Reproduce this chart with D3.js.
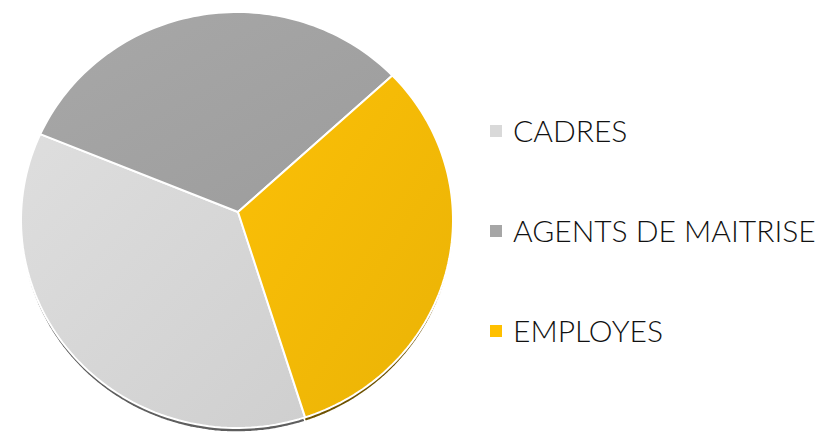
<!DOCTYPE html>
<html>
<head>
<meta charset="utf-8">
<script src="https://cdn.jsdelivr.net/npm/d3@7"></script>
<style>
  body { margin: 0; background: #fff; }
  svg { display: block; }
</style>
</head>
<body>
<div class="svg-container"></div>
<script>
// data (shares)
var categories = ["CADRES", "AGENTS DE MAITRISE", "EMPLOYES"];
var values = [36, 32.5, 31.5];
var sliceColors = ["#d5d5d5", "#a1a1a1", "#f1b806"];
var edgeColors = ["#5e5e5e", "#5e5e5e", "#6e5200"];
var legendColors = ["#d9d9d9", "#a6a6a6", "#ffc000"];

var width = 830, height = 437;

var svg = d3.select(".svg-container").append("svg")
    .attr("width", width)
    .attr("height", height);

// outline of the (slightly tilted) pie and the point where slices meet
var cx = 237, cy = 220, rx = 216, ry = 208;
var apex = [238, 212];
var firstAngle = 161.9 * Math.PI / 180;

var pie = d3.pie().sort(null).value(function(d) { return d; })
    .startAngle(firstAngle).endAngle(firstAngle + 2 * Math.PI);
var arcs = pie(values);

// point on the outline hit by a ray from the apex
function rim(a) {
    var dx = Math.sin(a), dy = -Math.cos(a);
    var ox = (apex[0] - cx) / rx, oy = (apex[1] - cy) / ry;
    var ux = dx / rx, uy = dy / ry;
    var A = ux * ux + uy * uy, B = 2 * (ox * ux + oy * uy), C = ox * ox + oy * oy - 1;
    var t = (-B + Math.sqrt(B * B - 4 * A * C)) / (2 * A);
    return [apex[0] + t * dx, apex[1] + t * dy];
}

function slicePath(d) {
    var pts = [apex];
    var n = 80;
    for (var i = 0; i <= n; i++) {
        pts.push(rim(d.startAngle + (d.endAngle - d.startAngle) * i / n));
    }
    return d3.line()(pts) + "Z";
}

// gradients for a light shading
var defs = svg.append("defs");
sliceColors.forEach(function(c, i) {
    var g = defs.append("linearGradient").attr("id", "grad" + i)
        .attr("x1", "0%").attr("y1", "0%").attr("x2", "100%").attr("y2", "100%");
    g.append("stop").attr("offset", "0%").attr("stop-color", d3.rgb(c).brighter(0.12));
    g.append("stop").attr("offset", "100%").attr("stop-color", d3.rgb(c).darker(0.08));
});

// thick edge below
svg.append("g").selectAll("path")
    .data(arcs)
    .enter().append("path")
    .attr("d", slicePath)
    .attr("transform", "translate(0,4)")
    .attr("fill", function(d, i) { return edgeColors[i]; })
    .attr("stroke", "#fff")
    .attr("stroke-width", 1.5);

// slices
svg.append("g").selectAll("path")
    .data(arcs)
    .enter().append("path")
    .attr("d", slicePath)
    .attr("fill", function(d, i) { return "url(#grad" + i + ")"; })
    .attr("stroke", "#fff")
    .attr("stroke-width", 2)
    .attr("stroke-linejoin", "round");

// legend
var legendY = d3.scalePoint().domain(categories).range([131, 331]);

var legend = svg.append("g").selectAll("g")
    .data(categories)
    .enter().append("g")
    .attr("transform", function(d) { return "translate(490," + legendY(d) + ")"; });

legend.append("rect")
    .attr("x", 0).attr("y", -6)
    .attr("width", 12).attr("height", 12)
    .attr("fill", function(d, i) { return legendColors[i]; });

legend.append("text")
    .attr("x", 23).attr("y", 11)
    .attr("font-family", "Lato, sans-serif")
    .attr("font-weight", 300)
    .attr("font-size", 30)
    .attr("fill", "#111")
    .text(function(d) { return d; });
</script>
</body>
</html>
